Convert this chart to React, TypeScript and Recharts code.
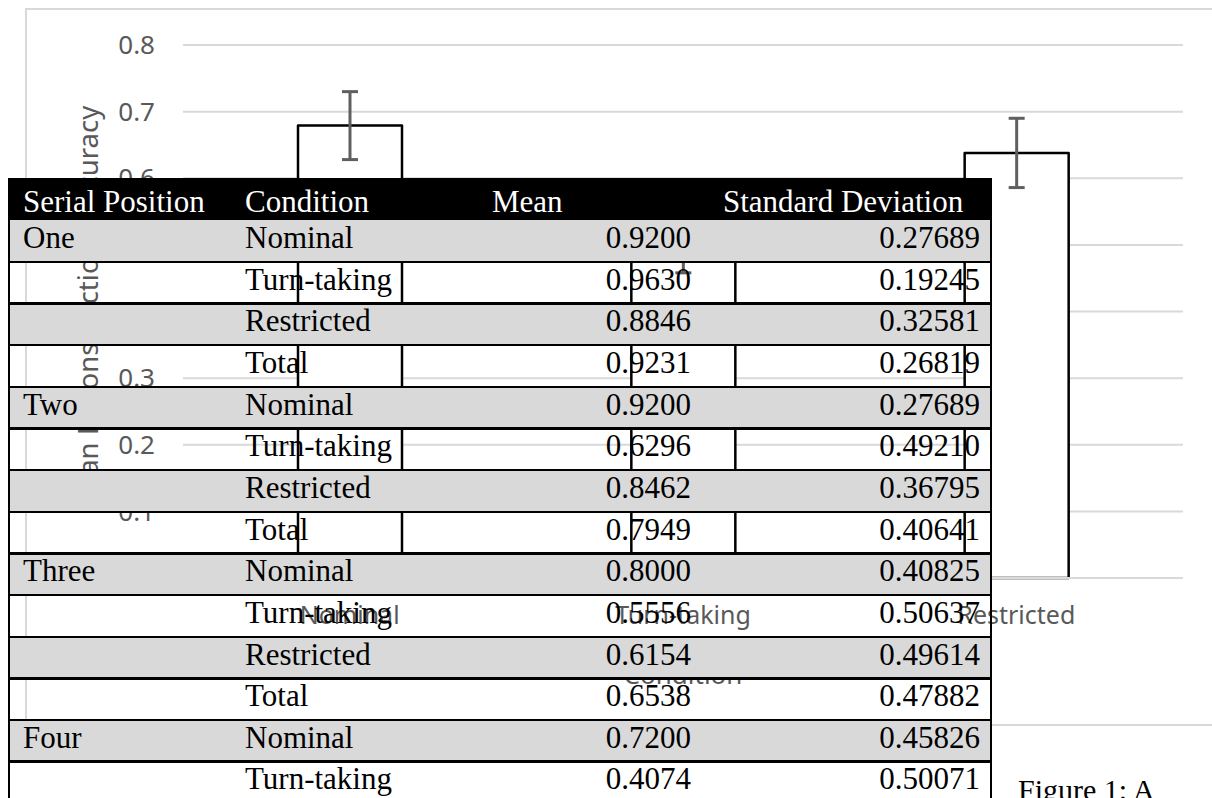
import React from 'react';
import { BarChart, Bar, XAxis, YAxis, CartesianGrid, ErrorBar, Label } from 'recharts';

// bar chart (behind the table)
const conditions = ['Nominal', 'Turn-taking', 'Restricted'];
const meanAccuracy = [0.679, 0.508, 0.638];
const errorMargins = [0.051, 0.05, 0.052];
const yTicks = [0, 0.1, 0.2, 0.3, 0.4, 0.5, 0.6, 0.7, 0.8];

// table laid over the chart
const tableHeaders = ['Serial Position', 'Condition', 'Mean', 'Standard Deviation'];
const rowPositions = ['One', '', '', '', 'Two', '', '', '', 'Three', '', '', '', 'Four', ''];
const rowConditions = [
  'Nominal', 'Turn-taking', 'Restricted', 'Total',
  'Nominal', 'Turn-taking', 'Restricted', 'Total',
  'Nominal', 'Turn-taking', 'Restricted', 'Total',
  'Nominal', 'Turn-taking',
];
const rowMeans = [
  '0.9200', '0.9630', '0.8846', '0.9231',
  '0.9200', '0.6296', '0.8462', '0.7949',
  '0.8000', '0.5556', '0.6154', '0.6538',
  '0.7200', '0.4074',
];
const rowSDs = [
  '0.27689', '0.19245', '0.32581', '0.26819',
  '0.27689', '0.49210', '0.36795', '0.40641',
  '0.40825', '0.50637', '0.49614', '0.47882',
  '0.45826', '0.50071',
];

const chartData = conditions.map((condition, i) => ({
  condition,
  mean: meanAccuracy[i],
  err: errorMargins[i],
}));

const AXIS_GRAY = '#595959';
const GRID_GRAY = '#d9d9d9';
const SANS = '"Noto Sans", sans-serif';
const SERIF = '"Liberation Serif", "Times New Roman", serif';

const HEADER_TOP = 178;
const ROW_TOP = 220;
const ROW_H = 41.65;
const TABLE_LEFT = 8;
const TABLE_RIGHT = 992;

function YTitle(props: any) {
  const { viewBox } = props;
  const cx = viewBox.x + 98;
  const cy = viewBox.y + viewBox.height / 2 - 1;
  return (
    <text
      x={cx}
      y={cy}
      transform={`rotate(-90, ${cx}, ${cy})`}
      textAnchor="middle"
      fill={AXIS_GRAY}
      fontSize={27.5}
      fontFamily={SANS}
    >
      Mean Reconstructions Accuracy
    </text>
  );
}

function XTitle(props: any) {
  const { viewBox } = props;
  return (
    <text
      x={viewBox.x + viewBox.width / 2}
      y={viewBox.y + 106}
      textAnchor="middle"
      fill={AXIS_GRAY}
      fontSize={26}
      fontFamily={SANS}
    >
      Condition
    </text>
  );
}

const cellText: React.CSSProperties = {
  position: 'absolute',
  fontFamily: SERIF,
  fontSize: 31,
  lineHeight: '31px',
  whiteSpace: 'nowrap',
};

function TableRow({ index }: { index: number }) {
  const top = ROW_TOP + index * ROW_H;
  const shaded = index % 2 === 0;
  const textTop = 2;
  return (
    <div
      style={{
        position: 'absolute',
        left: TABLE_LEFT,
        top,
        width: TABLE_RIGHT - TABLE_LEFT,
        height: ROW_H,
        background: shaded ? '#d9d9d9' : 'transparent',
        color: '#000',
      }}
    >
      <div style={{ ...cellText, top: textTop, left: 15 }}>{rowPositions[index]}</div>
      <div style={{ ...cellText, top: textTop, left: 237 }}>{rowConditions[index]}</div>
      <div style={{ ...cellText, top: textTop, left: 483 - 200, width: 400, textAlign: 'right' }}>
        {rowMeans[index]}
      </div>
      <div style={{ ...cellText, top: textTop, left: 772 - 400, width: 600, textAlign: 'right' }}>
        {rowSDs[index]}
      </div>
    </div>
  );
}

export default function App() {
  const rowCount = rowConditions.length;
  return (
    <div
      style={{
        position: 'fixed',
        left: 0,
        top: 0,
        width: 1212,
        height: 798,
        overflow: 'hidden',
        background: '#fff',
      }}
    >
      {/* light chart-area frame */}
      <div
        style={{
          position: 'absolute',
          left: 25,
          top: 8,
          width: 1250,
          height: 714,
          border: `2.5px solid ${GRID_GRAY}`,
        }}
      />

      <div style={{ position: 'absolute', left: 0, top: 0 }}>
        <BarChart
          width={1212}
          height={798}
          data={chartData}
          margin={{ top: 45, right: 29, bottom: 190, left: 0 }}
        >
          <CartesianGrid vertical={false} stroke={GRID_GRAY} strokeWidth={2} />
          <XAxis
            dataKey="condition"
            height={30}
            tickLine={false}
            tickSize={0}
            tickMargin={28}
            axisLine={{ stroke: GRID_GRAY, strokeWidth: 2 }}
            tick={{ fill: AXIS_GRAY, fontSize: 25, fontFamily: SANS }}
          >
            <Label content={XTitle} />
          </XAxis>
          <YAxis
            width={183}
            domain={[0, 0.8]}
            ticks={yTicks}
            interval={0}
            axisLine={false}
            tickLine={false}
            tickSize={0}
            tickMargin={28}
            tickFormatter={(v: number) => (v === 0 ? '0' : v.toFixed(1))}
            tick={{ fill: AXIS_GRAY, fontSize: 26, fontFamily: SANS }}
          >
            <Label content={YTitle} />
          </YAxis>
          <Bar
            dataKey="mean"
            barSize={104}
            fill="#ffffff"
            stroke="#000000"
            strokeWidth={2.5}
            strokeLinejoin="round"
            isAnimationActive={false}
          >
            <ErrorBar
              dataKey="err"
              direction="y"
              width={8}
              stroke="#5f5f5f"
              strokeWidth={3}
              isAnimationActive={false}
            />
          </Bar>
        </BarChart>
      </div>

      {/* table header */}
      <div
        style={{
          position: 'absolute',
          left: TABLE_LEFT,
          top: HEADER_TOP,
          width: TABLE_RIGHT - TABLE_LEFT,
          height: ROW_TOP - HEADER_TOP,
          background: '#000',
          color: '#fff',
        }}
      >
        <div style={{ ...cellText, top: 8, left: 15 }}>{tableHeaders[0]}</div>
        <div style={{ ...cellText, top: 8, left: 237 }}>{tableHeaders[1]}</div>
        <div style={{ ...cellText, top: 8, left: 484 }}>{tableHeaders[2]}</div>
        <div style={{ ...cellText, top: 8, left: 715 }}>{tableHeaders[3]}</div>
      </div>

      {Array.from({ length: rowCount }, (_, i) => (
        <TableRow key={i} index={i} />
      ))}

      {/* row separators */}
      {Array.from({ length: rowCount }, (_, i) => (
        <div
          key={`sep-${i}`}
          style={{
            position: 'absolute',
            left: TABLE_LEFT,
            top: ROW_TOP + (i + 1) * ROW_H - 1,
            width: TABLE_RIGHT - TABLE_LEFT,
            height: 2.5,
            background: '#000',
          }}
        />
      ))}
      {/* side borders */}
      <div
        style={{
          position: 'absolute',
          left: TABLE_LEFT,
          top: HEADER_TOP,
          width: 2,
          height: 798 - HEADER_TOP,
          background: '#000',
        }}
      />
      <div
        style={{
          position: 'absolute',
          left: TABLE_RIGHT - 2,
          top: HEADER_TOP,
          width: 2,
          height: 798 - HEADER_TOP,
          background: '#000',
        }}
      />

      <div style={{ ...cellText, fontSize: 30, lineHeight: '30px', top: 775, left: 1018, color: '#000' }}>
        Figure 1: A
      </div>
    </div>
  );
}
